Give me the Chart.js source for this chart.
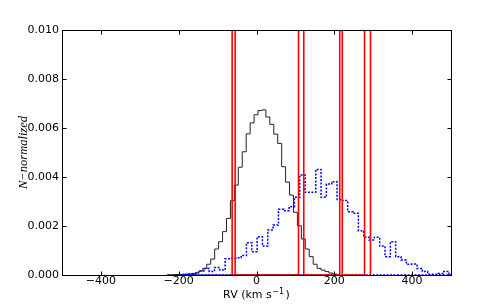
<!DOCTYPE html>
<html><head><meta charset="utf-8">
<script src="https://cdn.jsdelivr.net/npm/chart.js@4/dist/chart.umd.min.js"></script>
<style>html,body{margin:0;padding:0;background:#fff;}#wrap{width:501px;height:306px;}</style>
</head><body><div id="wrap"><canvas id="c" width="501" height="306"></canvas></div>
<script>
// ---- data ----
const xTicks = [-400, -200, 0, 200, 400];
const yTicks = [0.000, 0.002, 0.004, 0.006, 0.008, 0.010];

// black histogram (RV bins)
const blackBinStart = -229.1;
const blackBinWidth = 10.13;
const blackCounts = [0.00001,0.00001,0.00002,0.00002,0.00003,0.00004,0.00005,
  0.00009,0.00016,0.00027,0.00044,0.00065,0.00106,0.00136,0.00177,0.00231,0.00303,
  0.00367,0.00440,0.00503,0.00576,0.00621,0.00654,0.00671,0.00674,0.00645,0.00615,
  0.00575,0.00537,0.00442,0.00379,0.00326,0.00256,0.00201,0.00147,0.00106,0.00075,
  0.00044,0.00027,0.00020,0.00014,0.00008,0.00004];

// blue dotted histogram
const blueBinStart = -190.2;
const blueBinWidth = 13.7;
const blueCounts = [0.00002,0.00004,0.00006,0.00016,0.00027,0.00014,0.00031,0.00020,
  0.00066,0.00068,0.00070,0.00080,0.00132,0.00095,0.00156,0.00118,0.00184,0.00204,
  0.00268,0.00262,0.00279,0.00317,0.00408,0.00338,0.00338,0.00431,0.00317,0.00371,
  0.00381,0.00308,0.00304,0.00258,0.00252,0.00181,0.00154,0.00143,0.00154,0.00118,
  0.00075,0.00136,0.00075,0.00061,0.00044,0.00045,0.00027,0.00014,0.00003,0.00003,
  0.00006,0.00014,0.00003];

// red vertical marker pairs (RV)
const redLines = [-62.6, -54.9, 108, 121.5, 214, 220.5, 277.7, 293];

// ---- build datasets ----
function histPoints(start, width, counts) {
  const pts = [{x: start, y: 0}];
  counts.forEach((c, i) => pts.push({x: start + i * width, y: c}));
  pts.push({x: start + counts.length * width, y: 0});
  pts.push({x: start, y: 0});
  return pts;
}
const redPts = [];
for (let i = 0; i < redLines.length; i += 2) {
  const a = redLines[i], b = redLines[i + 1];
  redPts.push({x: a, y: 0}, {x: a, y: 1}, {x: b, y: 1}, {x: b, y: 0});
}

const fmtX = v => (v < 0 ? '\u2212' + Math.abs(v) : String(v));

const framePlugin = {
  id: 'frame',
  afterDraw(chart) {
    const ctx = chart.ctx, a = chart.chartArea;
    const xs = chart.scales.x, ys = chart.scales.y;
    ctx.save();
    ctx.strokeStyle = '#000';
    ctx.lineWidth = 1;
    const L = Math.round(a.left) + 0.5, R = Math.round(a.right) + 0.5;
    const T = Math.round(a.top) + 0.5, B = Math.round(a.bottom) + 0.5;
    ctx.strokeRect(L, T, R - L, B - T);
    ctx.beginPath();
    xTicks.forEach(v => {
      const px = Math.round(xs.getPixelForValue(v)) + 0.5;
      ctx.moveTo(px, B); ctx.lineTo(px, B - 4);
      ctx.moveTo(px, T); ctx.lineTo(px, T + 4);
    });
    yTicks.forEach(v => {
      const py = Math.round(ys.getPixelForValue(v)) + 0.5;
      ctx.moveTo(L, py); ctx.lineTo(L + 4, py);
      ctx.moveTo(R, py); ctx.lineTo(R - 4, py);
    });
    ctx.stroke();
    // x title with superscript
    ctx.fillStyle = '#000';
    ctx.textBaseline = 'alphabetic';
    ctx.textAlign = 'left';
    const f1 = '11px "DejaVu Sans"', f2 = '8px "DejaVu Sans"';
    const t1 = 'RV (km s', t2 = '\u22121', t3 = ')';
    ctx.font = f1; const w1 = ctx.measureText(t1).width, w3 = ctx.measureText(t3).width;
    ctx.font = f2; const w2 = ctx.measureText(t2).width;
    const total = w1 + w2 + 2 + w3;
    let x0 = (a.left + a.right) / 2 - total / 2;
    const by = 298;
    ctx.font = f1; ctx.fillText(t1, x0, by);
    ctx.font = f2; ctx.fillText(t2, x0 + w1 + 0.5, by - 4.5);
    ctx.font = f1; ctx.fillText(t3, x0 + w1 + w2 + 2, by);
    // y title
    ctx.save();
    ctx.translate(26.5, (a.top + a.bottom) / 2);
    ctx.rotate(-Math.PI / 2);
    ctx.textAlign = 'center';
    ctx.font = 'italic 12.5px "Liberation Serif"';
    ctx.fillText('N\u2212normalized', 0, 0);
    ctx.restore();
    ctx.restore();
  }
};

new Chart(document.getElementById('c'), {
  type: 'line',
  data: {
    datasets: [
      {data: redPts, borderColor: '#ff0000', borderWidth: 1.6, pointRadius: 0, fill: false},
      {data: histPoints(blueBinStart, blueBinWidth, blueCounts), borderColor: '#0000ff',
       borderWidth: 1.5, borderDash: [2, 1.5], stepped: 'before', pointRadius: 0, fill: false},
      {data: histPoints(blackBinStart, blackBinWidth, blackCounts), borderColor: '#222',
       borderWidth: 1, stepped: 'before', pointRadius: 0, fill: false}
    ]
  },
  options: {
    animation: false,
    responsive: false,
    devicePixelRatio: 1,
    layout: {padding: {left: 0, right: 50, top: 30, bottom: 0}},
    plugins: {legend: {display: false}, tooltip: {enabled: false}},
    elements: {point: {radius: 0}, line: {tension: 0}},
    scales: {
      x: {
        type: 'linear', min: -500, max: 500,
        afterFit(s) { s.height = 31; },
        afterBuildTicks(s) { s.ticks = xTicks.map(v => ({value: v})); },
        grid: {display: false, drawTicks: false},
        border: {display: false},
        ticks: {padding: 0, autoSkip: false, maxRotation: 0, color: '#000',
                font: {family: 'DejaVu Sans', size: 11}, callback: v => fmtX(v)}
      },
      y: {
        type: 'linear', min: 0, max: 0.010,
        afterFit(s) { s.width = 62; },
        afterBuildTicks(s) { s.ticks = yTicks.map(v => ({value: v})); },
        grid: {display: false, drawTicks: false},
        border: {display: false},
        ticks: {padding: 3, autoSkip: false, color: '#000',
                font: {family: 'DejaVu Sans', size: 11}, callback: v => Number(v).toFixed(3)}
      }
    }
  },
  plugins: [framePlugin]
});
</script></body></html>
